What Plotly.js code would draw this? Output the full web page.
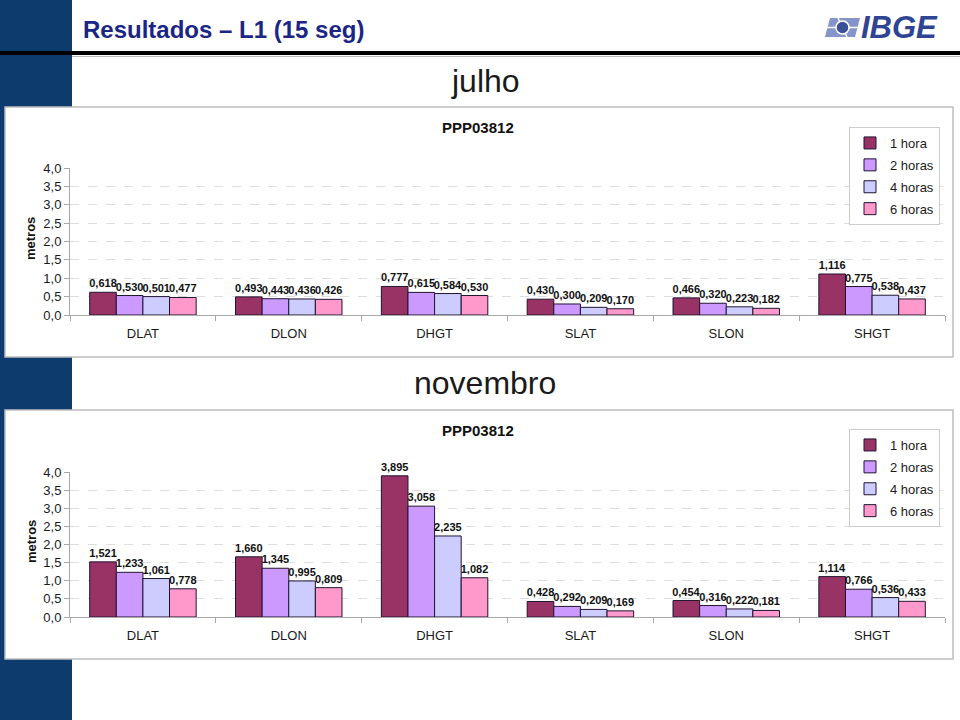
<!DOCTYPE html>
<html>
<head>
<meta charset="utf-8">
<script src="https://cdn.plot.ly/plotly-3.0.1.min.js"></script>
<style>
html,body{margin:0;padding:0;background:#fff;}
#chart{width:960px;height:720px;}
</style>
</head>
<body>
<div id="chart"></div>
<script>
// ---- data ----
const categories = ['DLAT', 'DLON', 'DHGT', 'SLAT', 'SLON', 'SHGT'];
const seriesNames = ['1 hora', '2 horas', '4 horas', '6 horas'];
const seriesColors = ['#993366', '#CC99FF', '#CCCCFF', '#FF99CC'];

const julho1h = [0.618, 0.493, 0.777, 0.430, 0.466, 1.116];
const julho2h = [0.530, 0.443, 0.615, 0.300, 0.320, 0.775];
const julho4h = [0.501, 0.436, 0.584, 0.209, 0.223, 0.538];
const julho6h = [0.477, 0.426, 0.530, 0.170, 0.182, 0.437];

const nov1h = [1.521, 1.660, 3.895, 0.428, 0.454, 1.114];
const nov2h = [1.233, 1.345, 3.058, 0.292, 0.316, 0.766];
const nov4h = [1.061, 0.995, 2.235, 0.209, 0.222, 0.536];
const nov6h = [0.778, 0.809, 1.082, 0.169, 0.181, 0.433];

const yTickVals = [0, 0.5, 1, 1.5, 2, 2.5, 3, 3.5, 4];

// ---- helpers (pixel -> paper) ----
const W = 960, H = 720;
const px = x => x / W;
const py = y => 1 - y / H;
const FONT = 'Liberation Sans, Arial, sans-serif';

function makeTraces(seriesList, xa, ya, legendId) {
  return seriesList.map((vals, i) => ({
    type: 'bar',
    name: seriesNames[i],
    x: categories,
    y: vals,
    xaxis: xa,
    yaxis: ya,
    legend: legendId,
    legendgroup: legendId + i,
    marker: {color: seriesColors[i], line: {color: '#1f1430', width: 1}},
    texttemplate: '%{y:.3f}',
    textposition: 'outside',
    constraintext: 'none',
    cliponaxis: false,
    textfont: {family: FONT, size: 11, color: '#111', weight: 'bold'},
    hoverinfo: 'x+y+name'
  }));
}

const traces = [
  ...makeTraces([julho1h, julho2h, julho4h, julho6h], 'x', 'y', 'legend'),
  ...makeTraces([nov1h, nov2h, nov4h, nov6h], 'x2', 'y2', 'legend2')
];

function xAxis(anchor) {
  return {
    domain: [px(70), px(945)],
    anchor: anchor,
    type: 'category',
    showline: true, linecolor: '#a8a8a8', linewidth: 1,
    ticks: 'outside', tickson: 'boundaries', ticklen: 5, tickcolor: '#a8a8a8',
    tickfont: {family: FONT, size: 13, color: '#1a1a1a'},
    ticklabelstandoff: 6,
    showgrid: false, zeroline: false, fixedrange: true
  };
}
function yAxis(top, bottom, anchor) {
  return {
    domain: [py(bottom), py(top)],
    anchor: anchor,
    range: [0, 4],
    tickvals: yTickVals,
    tickformat: '.1f',
    showline: true, linecolor: '#a8a8a8', linewidth: 1,
    ticks: 'outside', ticklen: 5, tickcolor: '#a8a8a8',
    tickfont: {family: FONT, size: 13, color: '#1a1a1a'},
    showgrid: true, gridcolor: '#dedede', griddash: 'dash', gridwidth: 1,
    zeroline: false, fixedrange: true
  };
}

function legendAt(topPx) {
  return {
    x: px(849), y: py(topPx), xanchor: 'left', yanchor: 'top',
    bgcolor: '#ffffff', bordercolor: '#cccccc', borderwidth: 1,
    font: {family: FONT, size: 13, color: '#1a1a1a'},
    tracegroupgap: 2, traceorder: 'grouped', itemclick: false
  };
}

const shapes = [
  // left navy strip
  {type: 'rect', xref: 'paper', yref: 'paper', x0: 0, x1: px(72), y0: 0, y1: 1,
   fillcolor: '#0e3b6e', line: {width: 0}, layer: 'below'},
  // header rule
  {type: 'line', xref: 'paper', yref: 'paper', x0: 0, x1: 1, y0: py(53), y1: py(53),
   line: {color: '#000', width: 4}, layer: 'below'},
  {type: 'line', xref: 'paper', yref: 'paper', x0: px(72), x1: 1, y0: py(56.5), y1: py(56.5),
   line: {color: '#bbbbbb', width: 1}, layer: 'below'},
  // chart boxes
  {type: 'rect', xref: 'paper', yref: 'paper', x0: px(5), x1: px(953), y0: py(357), y1: py(107),
   fillcolor: '#ffffff', line: {color: '#bdbdbd', width: 1.5}, layer: 'below'},
  {type: 'rect', xref: 'paper', yref: 'paper', x0: px(5), x1: px(953), y0: py(659), y1: py(410),
   fillcolor: '#ffffff', line: {color: '#bdbdbd', width: 1.5}, layer: 'below'},
  // IBGE logo icon
  {type: 'path', xref: 'paper', yref: 'paper',
   path: `M ${px(830)} ${py(18)} L ${px(860)} ${py(18)} L ${px(855)} ${py(37)} L ${px(825)} ${py(37)} Z`,
   fillcolor: '#8595cb', line: {width: 0}, layer: 'above'},
  {type: 'line', xref: 'paper', yref: 'paper', x0: px(826), x1: px(858), y0: py(27.5), y1: py(27.5),
   line: {color: '#ffffff', width: 1.5}, layer: 'above'},
  {type: 'line', xref: 'paper', yref: 'paper', x0: px(838), x1: px(847), y0: py(18), y1: py(37),
   line: {color: '#ffffff', width: 1.5}, layer: 'above'},
  {type: 'circle', xref: 'paper', yref: 'paper', x0: px(836), x1: px(849), y0: py(34), y1: py(21),
   fillcolor: '#3a4f98', line: {color: '#ffffff', width: 1.5}, layer: 'above'}
];

const annotations = [
  {text: '<b>Resultados – L1 (15 seg)</b>', xref: 'paper', yref: 'paper', x: px(81), y: py(30),
   xanchor: 'left', yanchor: 'middle', showarrow: false,
   font: {family: FONT, size: 24, color: '#1b2586'}},
  {text: '<b><i>IBGE</i></b>', xref: 'paper', yref: 'paper', x: px(859), y: py(28),
   xanchor: 'left', yanchor: 'middle', showarrow: false,
   font: {family: FONT, size: 31, color: '#2f4593'}},
  {text: 'julho', xref: 'paper', yref: 'paper', x: px(485), y: py(81),
   xanchor: 'center', yanchor: 'middle', showarrow: false,
   font: {family: FONT, size: 32, color: '#1a1a1a'}},
  {text: 'novembro', xref: 'paper', yref: 'paper', x: px(485), y: py(383),
   xanchor: 'center', yanchor: 'middle', showarrow: false,
   font: {family: FONT, size: 32, color: '#1a1a1a'}},
  {text: '<b>PPP03812</b>', xref: 'paper', yref: 'paper', x: px(478), y: py(127),
   xanchor: 'center', yanchor: 'middle', showarrow: false,
   font: {family: FONT, size: 15, color: '#111'}},
  {text: '<b>PPP03812</b>', xref: 'paper', yref: 'paper', x: px(478), y: py(430),
   xanchor: 'center', yanchor: 'middle', showarrow: false,
   font: {family: FONT, size: 15, color: '#111'}},
  {text: '<b>metros</b>', xref: 'paper', yref: 'paper', x: px(31), y: py(239),
   xanchor: 'center', yanchor: 'middle', textangle: -90, showarrow: false,
   font: {family: FONT, size: 13, color: '#111'}},
  {text: '<b>metros</b>', xref: 'paper', yref: 'paper', x: px(31), y: py(542),
   xanchor: 'center', yanchor: 'middle', textangle: -90, showarrow: false,
   font: {family: FONT, size: 13, color: '#111'}}
];

const layout = {
  width: W, height: H,
  margin: {l: 0, r: 0, t: 0, b: 0},
  paper_bgcolor: '#ffffff',
  plot_bgcolor: 'rgba(0,0,0,0)',
  separators: ',.',
  barmode: 'group',
  bargap: 0.27,
  bargroupgap: 0,
  showlegend: true,
  font: {family: FONT},
  xaxis: xAxis('y'),
  yaxis: yAxis(168, 315, 'x'),
  xaxis2: xAxis('y2'),
  yaxis2: yAxis(472, 617, 'x2'),
  legend: legendAt(127),
  legend2: legendAt(429),
  shapes: shapes,
  annotations: annotations
};

Plotly.newPlot('chart', traces, layout, {displayModeBar: false, staticPlot: true});
</script>
</body>
</html>
